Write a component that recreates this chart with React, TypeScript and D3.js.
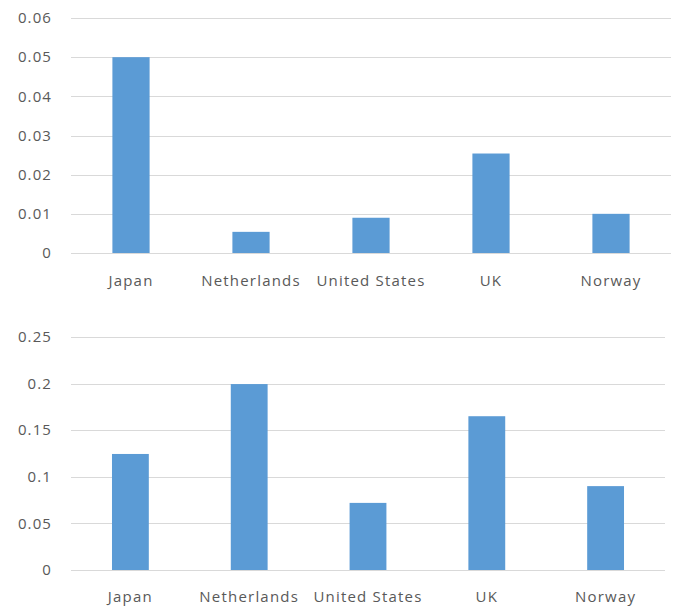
import React from "react";
import * as d3 from "d3";

const categories = ["Japan", "Netherlands", "United States", "UK", "Norway"];
const topValues = [0.05, 0.0054, 0.009, 0.0254, 0.01];
const topTicks = [0, 0.01, 0.02, 0.03, 0.04, 0.05, 0.06];
const bottomValues = [0.1245, 0.1995, 0.072, 0.165, 0.09];
const bottomTicks = [0, 0.05, 0.1, 0.15, 0.2, 0.25];

const FONT = "'Open Sans', sans-serif";
const TEXT = "#595959";
const GRID = "#d9d9d9";
const BAR = "#5b9bd5";

type PanelProps = {
  values: number[];
  ticks: number[];
  x0: number;
  x1: number;
  yTop: number;
  yBottom: number;
  labelY: number;
};

function Panel({ values, ticks, x0, x1, yTop, yBottom, labelY }: PanelProps) {
  const maxT = ticks[ticks.length - 1];
  const y = d3.scaleLinear().domain([0, maxT]).range([yBottom, yTop]);
  const x = d3.scaleBand<string>().domain(categories).range([x0, x1]).paddingInner(0.69).paddingOuter(0.345);
  const fmt = (v: number) => String(+v.toFixed(4));
  return (
    <g>
      {ticks.map((t) => (
        <g key={t}>
          <line x1={x0} x2={x1} y1={Math.round(y(t)) + 0.5} y2={Math.round(y(t)) + 0.5} stroke={GRID} strokeWidth={1} />
          <text x={52} y={y(t)} dy="0.35em" textAnchor="end" fill={TEXT} fontSize={15} letterSpacing={1.1} fontFamily={FONT}>
            {fmt(t)}
          </text>
        </g>
      ))}
      {categories.map((c, i) => (
        <rect key={c} x={x(c)} y={y(values[i])} width={x.bandwidth()} height={yBottom - y(values[i])} fill={BAR} />
      ))}
      {categories.map((c) => (
        <text key={c} x={(x(c) as number) + x.bandwidth() / 2} y={labelY} textAnchor="middle" fill={TEXT} fontSize={15} letterSpacing={1.2} fontFamily={FONT}>
          {c}
        </text>
      ))}
    </g>
  );
}

export default function App() {
  return (
    <svg width={678} height={606} style={{ position: "absolute", left: 0, top: 0, background: "#fff" }}>
      <rect width={678} height={606} fill="#fff" />
      <Panel values={topValues} ticks={topTicks} x0={71} x1={671} yTop={18} yBottom={253} labelY={286} />
      <Panel values={bottomValues} ticks={bottomTicks} x0={71} x1={665} yTop={337} yBottom={570} labelY={602} />
    </svg>
  );
}
